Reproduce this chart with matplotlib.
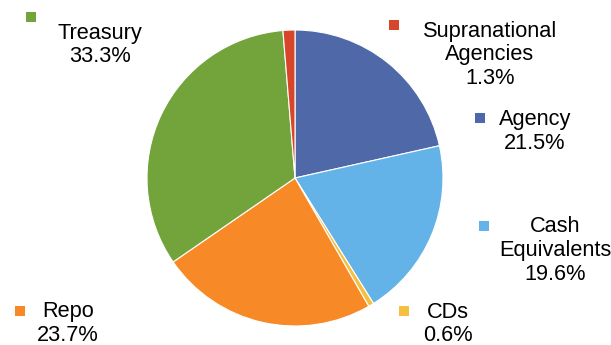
import matplotlib
matplotlib.use("Agg")
import matplotlib.pyplot as plt
from matplotlib.patches import Rectangle

categories = ["Agency", "Cash\nEquivalents", "CDs", "Repo", "Treasury", "Supranational\nAgencies"]
values = [21.5, 19.6, 0.6, 23.7, 33.3, 1.3]
colors = ["#4F68A8", "#64B3E8", "#F5C040", "#F78A26", "#72A43B", "#D7462B"]

W, H = 611, 345
fig = plt.figure(figsize=(W / 100, H / 100), dpi=100)
ax = fig.add_axes([0, 0, 1, 1])

ax.pie(values, colors=colors, startangle=90, counterclock=False,
       center=(295, H - 178), radius=148, frame=True,
       wedgeprops=dict(edgecolor="white", linewidth=0.8))
ax.set_xlim(0, W)
ax.set_ylim(0, H)
ax.set_aspect("equal")
ax.axis("off")

# label layout: (marker x, marker y, text center x, first line y) in pixels from top-left
layout = {
    "Agency": (480, 118, 535, 120),
    "Cash\nEquivalents": (484, 226, 555, 227),
    "CDs": (404, 311, 448, 312),
    "Repo": (20, 311, 68, 312),
    "Treasury": (31, 17, 100, 33),
    "Supranational\nAgencies": (394, 25, 490, 31),
}

for cat, val, col in zip(categories, values, colors):
    mx, my, tx, ty = layout[cat]
    ax.add_patch(Rectangle((mx - 5, H - my - 5), 10, 10, color=col, lw=0))
    lines = cat.split("\n") + [f"{val:.1f}%"]
    for i, line in enumerate(lines):
        ax.text(tx, H - (ty + i * 23.5), line, ha="center", va="center",
                fontsize=15.7, family=["Liberation Sans", "DejaVu Sans"], color="#000000")

fig.savefig("out.png", dpi=100)
